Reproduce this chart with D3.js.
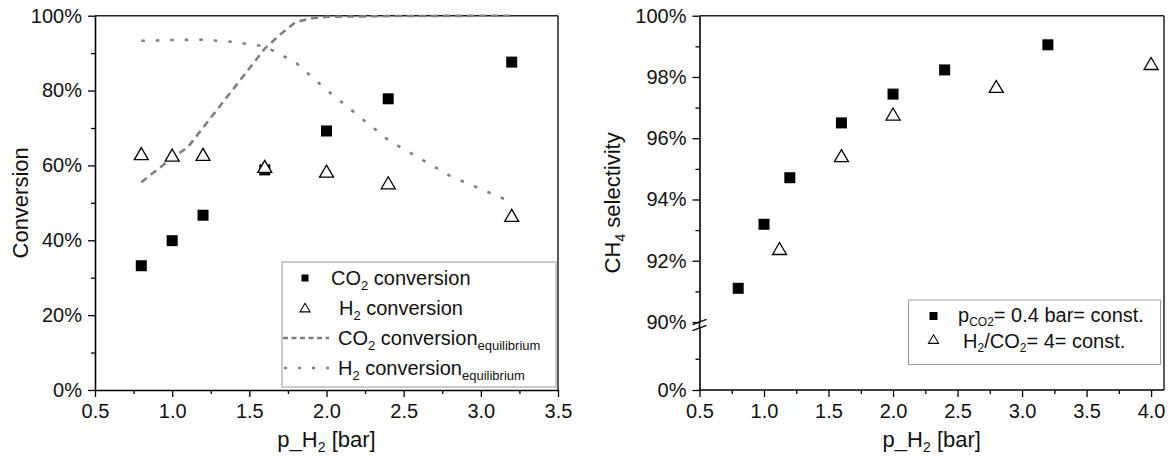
<!DOCTYPE html>
<html>
<head>
<meta charset="utf-8">
<script src="https://cdn.jsdelivr.net/npm/d3@7"></script>
<style>
  body { margin: 0; background: #fff; }
  svg { font-family: "Liberation Sans", Arial, sans-serif; }
</style>
</head>
<body>
<svg width="1173" height="463"></svg>
<script>
// left panel data
var co2_x = [0.8, 1.0, 1.2, 1.6, 2.0, 2.4, 3.2];
var co2_conv = [33.2, 39.9, 46.7, 58.8, 69.2, 77.8, 87.6];
var h2_x = [0.8, 1.0, 1.2, 1.6, 2.0, 2.4, 3.2];
var h2_conv = [63.0, 62.6, 62.8, 59.6, 58.3, 55.2, 46.5];
var co2_eq_x = [0.8, 1.0, 1.1, 1.6, 1.7, 1.8, 1.9, 2.0, 2.4, 3.2];
var co2_eq = [55.5, 62.0, 64.8, 91.2, 95.0, 98.3, 99.3, 99.7, 99.9, 100];
var h2_eq_x = [0.8, 1.0, 1.2, 1.4, 1.6, 1.8, 2.0, 2.4, 2.8, 3.2];
var h2_eq = [93.3, 93.5, 93.6, 93.0, 91.8, 87.5, 80.2, 66.8, 57.2, 50.2];

// right panel data
var sq_x = [0.8, 1.0, 1.2, 1.6, 2.0, 2.4, 3.2];
var sq_sel = [91.1, 93.19, 94.71, 96.5, 97.44, 98.23, 99.05];
var tri_x = [1.12, 1.6, 2.0, 2.8, 4.0];
var tri_sel = [92.38, 95.41, 96.77, 97.67, 98.42];

var left_xticks = [0.5, 1.0, 1.5, 2.0, 2.5, 3.0, 3.5];
var left_yticks = [0, 20, 40, 60, 80, 100];
var right_xticks = [0.5, 1.0, 1.5, 2.0, 2.5, 3.0, 3.5, 4.0];
var right_yticks_up = [90, 92, 94, 96, 98, 100];

const svg = d3.select("svg");
const grey = "#808080";
const tickFont = 20;

function pct(d) { return d + "%"; }

function styleAxis(g) {
    g.selectAll("path.domain").attr("stroke", "#000").attr("stroke-width", 1.6);
    g.selectAll(".tick line").attr("stroke", "#000").attr("stroke-width", 1.3);
    g.selectAll(".tick text").attr("font-size", tickFont).attr("fill", "#111")
        .attr("font-family", "Liberation Sans, Arial, sans-serif");
}

function minorTicks(axisFn, scale, vals) {
    return axisFn(scale).tickValues(vals).tickSize(4).tickFormat("").tickSizeOuter(0);
}

function drawSquares(g, xs, ys, x, y, s) {
    g.selectAll(null).data(xs).join("rect")
        .attr("x", (d, i) => x(d) - s / 2)
        .attr("y", (d, i) => y(ys[i]) - s / 2)
        .attr("width", s).attr("height", s)
        .attr("fill", "#000");
}

function triPath(cx, cy, w, h) {
    return `M${cx},${cy - h * 0.55}L${cx + w / 2},${cy + h * 0.45}L${cx - w / 2},${cy + h * 0.45}Z`;
}

function drawTriangles(g, xs, ys, x, y) {
    g.selectAll(null).data(xs).join("path")
        .attr("d", (d, i) => triPath(x(d), y(ys[i]), 14, 12))
        .attr("fill", "#fff").attr("stroke", "#000").attr("stroke-width", 1.3);
}

// ---------- left panel ----------
var L = { left: 95, right: 558, top: 15.7, bottom: 390 };
var xL = d3.scaleLinear().domain([0.5, 3.5]).range([L.left, L.right]);
var yL = d3.scaleLinear().domain([0, 100]).range([L.bottom, L.top]);

var gl = svg.append("g");

// frame top / right
gl.append("line").attr("x1", L.left).attr("x2", L.right).attr("y1", L.top).attr("y2", L.top)
    .attr("stroke", "#222").attr("stroke-width", 1.5);
gl.append("line").attr("x1", L.right).attr("x2", L.right).attr("y1", L.top).attr("y2", L.bottom)
    .attr("stroke", "#222").attr("stroke-width", 1.5);

var line = d3.line().x(d => xL(d[0])).y(d => yL(d[1]));

gl.append("path")
    .datum(co2_eq_x.map((d, i) => [d, co2_eq[i]]))
    .attr("d", line)
    .attr("fill", "none").attr("stroke", grey).attr("stroke-width", 2.6)
    .attr("stroke-dasharray", "7,5");

gl.append("path")
    .datum(h2_eq_x.map((d, i) => [d, h2_eq[i]]))
    .attr("d", line)
    .attr("fill", "none").attr("stroke", grey).attr("stroke-width", 2.6)
    .attr("stroke-dasharray", "3.5,11");

drawSquares(gl, co2_x, co2_conv, xL, yL, 11);
drawTriangles(gl, h2_x, h2_conv, xL, yL);

gl.append("g").attr("transform", `translate(0,${L.bottom})`)
    .call(minorTicks(d3.axisBottom, xL, [0.75, 1.25, 1.75, 2.25, 2.75, 3.25]))
    .call(g => g.select(".domain").remove())
    .call(styleAxis);
gl.append("g").attr("transform", `translate(${L.left},0)`)
    .call(minorTicks(d3.axisLeft, yL, [10, 30, 50, 70, 90]))
    .call(g => g.select(".domain").remove())
    .call(styleAxis);

gl.append("g").attr("transform", `translate(0,${L.bottom})`)
    .call(d3.axisBottom(xL).tickValues(left_xticks).tickFormat(d3.format(".1f"))
        .tickSize(7).tickPadding(7).tickSizeOuter(0))
    .call(styleAxis);
gl.append("g").attr("transform", `translate(${L.left},0)`)
    .call(d3.axisLeft(yL).tickValues(left_yticks).tickFormat(pct)
        .tickSize(7).tickPadding(6).tickSizeOuter(0))
    .call(styleAxis);

gl.append("text")
    .attr("transform", `translate(${(L.left + L.right) / 2},447)`)
    .attr("text-anchor", "middle").attr("font-size", 22).attr("fill", "#111")
    .call(t => {
        t.append("tspan").text("p_H");
        t.append("tspan").attr("font-size", 14).attr("dy", 5).text("2");
        t.append("tspan").attr("dy", -5).text(" [bar]");
    });

gl.append("text")
    .attr("transform", `translate(28,${(L.top + L.bottom) / 2}) rotate(-90)`)
    .attr("text-anchor", "middle").attr("font-size", 22).attr("fill", "#111")
    .text("Conversion");

// left legend
var lg = gl.append("g");
lg.append("rect").attr("x", 282).attr("y", 262).attr("width", 274).attr("height", 125)
    .attr("fill", "#fff").attr("stroke", "#999").attr("stroke-width", 1);
lg.append("rect").attr("x", 301.5).attr("y", 274.5).attr("width", 7).attr("height", 7).attr("fill", "#000");
lg.append("path").attr("d", triPath(305, 308, 10, 8.5))
    .attr("fill", "#fff").attr("stroke", "#000").attr("stroke-width", 1.1);
lg.append("line").attr("x1", 283).attr("x2", 329).attr("y1", 338).attr("y2", 338)
    .attr("stroke", grey).attr("stroke-width", 2.4).attr("stroke-dasharray", "5,3.5");
lg.append("line").attr("x1", 284).attr("x2", 329).attr("y1", 368).attr("y2", 368)
    .attr("stroke", grey).attr("stroke-width", 2.4).attr("stroke-dasharray", "3,11");

function legendText(g, x, y, parts, subSize, subDy) {
    subSize = subSize || 13;
    subDy = subDy || 5;
    var t = g.append("text").attr("x", x).attr("y", y).attr("font-size", 20).attr("fill", "#111");
    parts.forEach(p => {
        var s = t.append("tspan").text(p[0]);
        if (p[1] === "sub") s.attr("font-size", subSize).attr("dy", subDy);
        if (p[1] === "up") s.attr("dy", -subDy);
    });
    return t;
}

legendText(lg, 331, 285, [["CO"], ["2", "sub"], [" conversion", "up"]]);
legendText(lg, 339, 315, [["H"], ["2", "sub"], [" conversion", "up"]]);
legendText(lg, 338, 345, [["CO"], ["2", "sub"], [" conversion", "up"], ["equilibrium", "sub"]]);
legendText(lg, 338, 375, [["H"], ["2", "sub"], [" conversion", "up"], ["equilibrium", "sub"]]);

// ---------- right panel ----------
var R = { left: 699.5, right: 1164, top: 15.7, bottom: 390 };
var xR = d3.scaleLinear().domain([0.5, 4.1]).range([R.left, R.right]);
var yUp = d3.scaleLinear().domain([90, 100]).range([322, R.top]);
var yLow = d3.scaleLinear().domain([0, 90]).range([R.bottom, 327.5]);

var gr = svg.append("g");

gr.append("line").attr("x1", R.left).attr("x2", R.right).attr("y1", R.top).attr("y2", R.top)
    .attr("stroke", "#222").attr("stroke-width", 1.5);
gr.append("line").attr("x1", R.right).attr("x2", R.right).attr("y1", R.top).attr("y2", R.bottom)
    .attr("stroke", "#222").attr("stroke-width", 1.5);

drawSquares(gr, sq_x, sq_sel, xR, yUp, 11);
drawTriangles(gr, tri_x, tri_sel, xR, yUp);

gr.append("g").attr("transform", `translate(0,${R.bottom})`)
    .call(minorTicks(d3.axisBottom, xR, [0.75, 1.25, 1.75, 2.25, 2.75, 3.25, 3.75]))
    .call(g => g.select(".domain").remove())
    .call(styleAxis);
gr.append("g").attr("transform", `translate(${R.left},0)`)
    .call(minorTicks(d3.axisLeft, yUp, [91, 93, 95, 97, 99]))
    .call(g => g.select(".domain").remove())
    .call(styleAxis);
gr.append("g").attr("transform", `translate(${R.left},0)`)
    .call(minorTicks(d3.axisLeft, yLow, [45]))
    .call(g => g.select(".domain").remove())
    .call(styleAxis);

gr.append("g").attr("transform", `translate(0,${R.bottom})`)
    .call(d3.axisBottom(xR).tickValues(right_xticks).tickFormat(d3.format(".1f"))
        .tickSize(7).tickPadding(7).tickSizeOuter(0))
    .call(g => g.select(".domain").attr("d", `M${R.left},0H${R.right}`))
    .call(styleAxis);
gr.append("g").attr("transform", `translate(${R.left},0)`)
    .call(d3.axisLeft(yUp).tickValues(right_yticks_up).tickFormat(pct)
        .tickSize(7).tickPadding(6).tickSizeOuter(0))
    .call(styleAxis);
gr.append("g").attr("transform", `translate(${R.left},0)`)
    .call(d3.axisLeft(yLow).tickValues([0]).tickFormat(pct)
        .tickSize(7).tickPadding(6).tickSizeOuter(0))
    .call(styleAxis);
// join the two axis pieces
gr.append("line").attr("x1", R.left).attr("x2", R.left).attr("y1", 321).attr("y2", 328.5)
    .attr("stroke", "#000").attr("stroke-width", 1.6);

// axis break marks
[-3, 3].forEach(o => {
    gr.append("line")
        .attr("x1", R.left - 7).attr("y1", 325 + o + 2.7)
        .attr("x2", R.left + 7).attr("y2", 325 + o - 2.7)
        .attr("stroke", "#000").attr("stroke-width", 1.3);
});

gr.append("text")
    .attr("transform", `translate(${(R.left + R.right) / 2},447)`)
    .attr("text-anchor", "middle").attr("font-size", 22).attr("fill", "#111")
    .call(t => {
        t.append("tspan").text("p_H");
        t.append("tspan").attr("font-size", 14).attr("dy", 5).text("2");
        t.append("tspan").attr("dy", -5).text(" [bar]");
    });

gr.append("text")
    .attr("transform", `translate(620,${(R.top + R.bottom) / 2}) rotate(-90)`)
    .attr("text-anchor", "middle").attr("font-size", 22).attr("fill", "#111")
    .call(t => {
        t.append("tspan").text("CH");
        t.append("tspan").attr("font-size", 14).attr("dy", 5).text("4");
        t.append("tspan").attr("dy", -5).text(" selectivity");
    });

// right legend
var rg = gr.append("g");
rg.append("rect").attr("x", 908.5).attr("y", 300).attr("width", 252).attr("height", 64.5)
    .attr("fill", "#fff").attr("stroke", "#999").attr("stroke-width", 1);
rg.append("rect").attr("x", 929.5).attr("y", 312).attr("width", 8).attr("height", 8).attr("fill", "#000");
rg.append("path").attr("d", triPath(933.5, 339.5, 10, 8.5))
    .attr("fill", "#fff").attr("stroke", "#000").attr("stroke-width", 1.1);
legendText(rg, 958, 322, [["p"], ["CO2", "sub"], ["= 0.4 bar= const.", "up"]], 12, 4);
legendText(rg, 963, 348, [["H"], ["2", "sub"], ["/CO", "up"], ["2", "sub"], ["= 4= const.", "up"]], 12, 4);
</script>
</body>
</html>
